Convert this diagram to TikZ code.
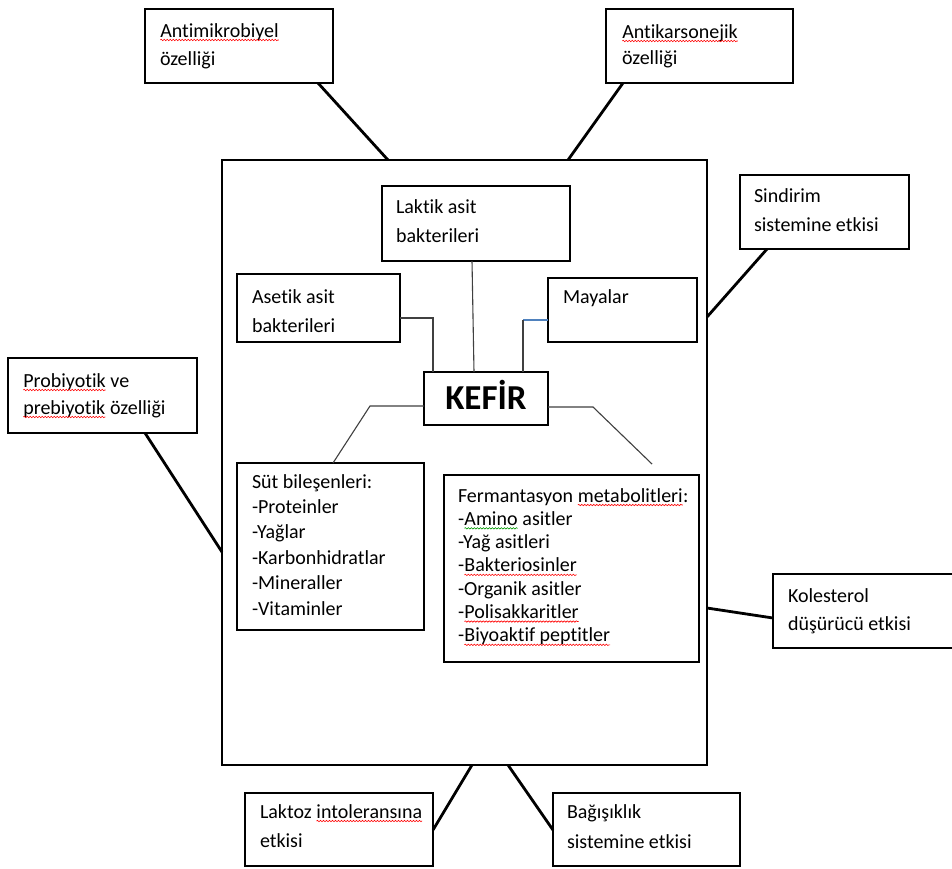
\documentclass[tikz,border=0pt]{standalone}
\usepackage{fontspec}
\setmainfont{Carlito}[Ligatures=NoCommon]
\usetikzlibrary{decorations.pathmorphing}
\definecolor{linkblue}{RGB}{79,129,189}
\newcommand\wavy[2]{\tikz[baseline=(w.base)]{\node[inner sep=0pt,outer sep=0pt,anchor=base](w){#2};\draw[#1,line width=0.6pt,decorate,decoration={snake,amplitude=0.7pt,segment length=3pt}]([yshift=-3pt]w.base west)--([yshift=-3pt]w.base east);}}
\newcommand\rsq[1]{\wavy{red}{#1}}
\newcommand\gsq[1]{\wavy{green!60!black}{#1}}
\newcommand\tb[2]{\parbox[t]{330pt}{\fontsize{20pt}{#1}\selectfont #2}}
\begin{document}
\begin{tikzpicture}[x=1pt,y=-1pt,
  box/.style={draw=black, line width=1.3pt, fill=white, anchor=north west, inner sep=0pt, outer sep=0pt},
  txt/.style={anchor=base west, inner sep=0pt, outer sep=0pt},
  thickc/.style={line width=2.8pt, black},
  thinc/.style={line width=1.1pt, black!75},
  bluec/.style={line width=1.1pt, linkblue},
  kefirtxt/.style={font=\fontsize{35pt}{40pt}\selectfont\bfseries, text height=22.5pt, text depth=0pt, inner sep=0pt}]
\useasboundingbox (0,0) rectangle (952,868);
\fill[white] (0,0) rectangle (952,868);

% main frame
\node[box, minimum width=485pt, minimum height=605pt] (main) at (222,160) {};

% outer boxes
\node[box, minimum width=188pt, minimum height=74pt] (antimik) at (145,9) {};
\node[box, minimum width=187pt, minimum height=74pt] (antikar) at (606,9) {};
\node[box, minimum width=169pt, minimum height=74pt] (sindirim) at (740,175) {};
\node[box, minimum width=189pt, minimum height=75pt] (probiy) at (8,358) {};
\node[box, minimum width=190pt, minimum height=74pt] (koles) at (773,574) {};
\node[box, minimum width=188pt, minimum height=73pt] (laktoz) at (245,793) {};
\node[box, minimum width=187pt, minimum height=73pt] (bagis) at (553,793) {};

% outer connectors
\draw[thickc] ([xshift=173pt]antimik.south west) -- ([xshift=166pt]main.north west);
\draw[thickc] ([xshift=17pt]antikar.south west) -- ([xshift=346pt]main.north west);
\draw[thickc] ([xshift=27pt]sindirim.south west) -- ([yshift=-157pt]main.north east);
\draw[thickc] ([xshift=137pt]probiy.south west) -- ([yshift=-392pt]main.north west);
\draw[thickc] ([yshift=-448pt]main.north east) -- ([yshift=30pt]koles.south west);
\draw[thickc] ([xshift=250pt]main.south west) -- ([yshift=-37pt]laktoz.north east);
\draw[thickc] ([xshift=286pt]main.south west) -- ([yshift=-37pt]bagis.north west);

% inner boxes
\node[box, minimum width=188pt, minimum height=75pt] (laktik) at (382,186) {};
\node[box, minimum width=163pt, minimum height=68pt] (asetik) at (237,274) {};
\node[box, minimum width=149pt, minimum height=64pt] (mayalar) at (548,278) {};
\node[box, minimum width=124pt, minimum height=53pt] (kefir) at (424,372) {};
\node[box, minimum width=187pt, minimum height=167pt] (sut) at (237,463) {};
\node[box, minimum width=255pt, minimum height=187pt] (ferm) at (444,475) {};

% inner connectors
\draw[thinc] ([xshift=90pt]laktik.south west) -- ([xshift=50pt]kefir.north west);
\draw[thinc] ([yshift=-44pt]asetik.north east) -| ([xshift=9pt]kefir.north west);
\coordinate (mbend) at (523,320);
\draw[bluec] ([yshift=-42pt]mayalar.north west) -- (mbend);
\draw[thinc] (mbend) -- ([xshift=99pt]kefir.north west);
\coordinate (lbend) at (370,406);
\draw[thinc] ([yshift=19pt]kefir.south west) -- (lbend) -- ([xshift=96pt]sut.north west);
\coordinate (rbend) at (593,407);
\coordinate (rend) at (652,464);
\draw[thinc] ([yshift=18pt]kefir.south east) -- (rbend) -- (rend);

% texts
\node[txt] (t-antimik) at (160,37) {\tb{28pt}{\rsq{Antimikrobiyel}\\özelliği}};
\node[txt] (t-antikar) at (622,38) {\tb{26pt}{\rsq{Antikarsonejik}\\özelliği}};
\node[txt] (t-sindirim) at (754,202) {\tb{29pt}{Sindirim\\sistemine etkisi}};
\node[txt] (t-probiy) at (23,387) {\tb{27pt}{\rsq{Probiyotik} ve\\\rsq{prebiyotik} özelliği}};
\node[txt] (t-koles) at (788,602) {\tb{28pt}{Kolesterol\\düşürücü etkisi}};
\node[txt] (t-laktoz) at (260,818) {\tb{29pt}{Laktoz \rsq{intoleransına}\\etkisi}};
\node[txt] (t-bagis) at (567,818) {\tb{30pt}{Bağışıklık\\sistemine etkisi}};
\node[txt] (t-laktik) at (396,213) {\tb{29pt}{Laktik asit\\bakterileri}};
\node[txt] (t-asetik) at (252,303) {\tb{29pt}{Asetik asit\\bakterileri}};
\node[txt] (t-mayalar) at (563,303) {\tb{29pt}{Mayalar}};
\node[kefirtxt] (t-kefir) at (kefir.center) {KEFİR};
\node[txt] (t-sut) at (252,488) {\tb{25.4pt}{Süt bileşenleri:\\-Proteinler\\-Yağlar\\-Karbonhidratlar\\-Mineraller\\-Vitaminler}};
\node[txt] (t-ferm) at (458,502) {\tb{23.3pt}{Fermantasyon \rsq{metabolitleri}:\\-\gsq{Amino} asitler\\-Yağ asitleri\\-\rsq{Bakteriosinler}\\-Organik asitler\\-\rsq{Polisakkaritler}\\-\rsq{Biyoaktif peptitler}}};
\end{tikzpicture}
\end{document}
